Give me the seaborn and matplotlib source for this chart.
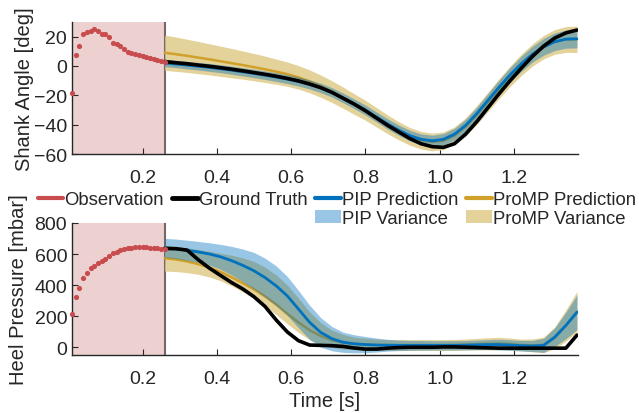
import numpy as np
import matplotlib
matplotlib.use("Agg")
import matplotlib.pyplot as plt
from matplotlib.lines import Line2D
from matplotlib.patches import Patch
import seaborn as sns

# observation phase (first part of the step)
obs_time = np.round(np.arange(0.01, 0.265, 0.01), 2)
obs_angle = [-18.5, 7.2, 13.8, 21.9, 23.0, 23.7, 24.9, 23.5, 21.9, 21.7, 19.7, 15.8, 14.7,
             13.6, 11.3, 9.5, 9.0, 8.4, 7.7, 7.0, 6.3, 5.4, 4.5, 4.1, 3.4, 2.9]
obs_pressure = [213, 324, 384, 445, 480, 510, 526, 543, 558, 571, 589, 604, 615,
                623, 632, 636, 641, 644, 647, 647, 644, 641, 638, 636, 633, 633]

# prediction phase
pred_time = np.round(np.arange(0.26, 1.371, 0.03), 2)

gt_angle = [3.0, 2.2, 1.5, 0.6, -0.2, -1.2, -2.2, -3.3, -4.5, -5.7, -7.0, -8.5, -10.2,
            -12.3, -14.8, -18.0, -22.0, -26.0, -30.5, -35.5, -40.5, -45.0, -49.5, -53.0,
            -55.0, -55.5, -53.0, -46.5, -38.0, -28.5, -19.0, -10.0, -1.5, 6.5, 13.5,
            19.0, 22.5, 24.5]
pip_angle = [2.0, 1.3, 0.6, -0.2, -1.0, -1.9, -2.9, -4.0, -5.1, -6.3, -7.6, -9.0, -10.6,
             -12.6, -15.0, -18.0, -21.8, -25.8, -30.0, -34.8, -39.5, -43.8, -47.5, -50.0,
             -51.0, -50.0, -46.5, -40.5, -32.5, -23.5, -14.5, -6.0, 1.5, 8.0, 13.0,
             16.5, 18.3, 18.5]
pip_angle_sd = [2.5, 2.5, 2.6, 2.6, 2.7, 2.7, 2.8, 2.8, 2.9, 2.9, 3.0, 3.0, 3.1,
                3.1, 3.2, 3.2, 3.3, 3.3, 3.4, 3.4, 3.5, 3.5, 3.6, 3.7,
                3.8, 3.9, 4.0, 4.2, 4.4, 4.6, 4.8, 5.0, 5.2, 5.4, 5.7,
                6.0, 6.2, 6.2]
promp_angle = [9.0, 8.0, 6.9, 5.7, 4.5, 3.2, 1.9, 0.6, -0.8, -2.3, -3.9, -5.6, -7.8,
               -10.5, -13.8, -17.5, -21.6, -26.0, -30.2, -35.0, -39.8, -44.2, -48.0, -50.6,
               -51.8, -51.0, -47.5, -41.5, -33.5, -24.5, -15.5, -7.0, 0.8, 7.5, 12.8,
               16.4, 18.0, 18.2]
promp_angle_sd = [12.0, 11.7, 11.3, 11.0, 10.6, 10.3, 10.0, 9.6, 9.3, 9.0, 8.6, 8.3, 8.0,
                  7.8, 7.6, 7.4, 7.2, 7.0, 6.8, 6.6, 6.4, 6.2, 6.0, 6.0,
                  6.0, 6.0, 6.0, 6.2, 6.4, 6.6, 6.8, 7.0, 7.3, 7.6, 8.0,
                  8.4, 8.8, 9.0]
promp_angle_lo = list(np.array(promp_angle) - np.array(promp_angle_sd))
promp_angle_hi = list(np.array(promp_angle) + np.array(promp_angle_sd))

gt_pressure = [636, 634, 625, 563, 509, 462, 416, 375, 325, 262, 175, 98, 42,
               14, 12, 10, 5, -5, -12, -12, -6, -2, 0, 0,
               0, 2, 2, 0, -2, -4, -6, -6, -6, -6, -6,
               -6, -6, 78]
pip_pressure = [640, 633, 624, 613, 600, 582, 557, 527, 492, 448, 395, 330, 245,
                160, 95, 55, 32, 22, 17, 14, 13, 12, 12, 12,
                12, 12, 12, 13, 15, 17, 17, 14, 10, 8, 12,
                65, 140, 225]
pip_pressure_sd = [61, 63, 65, 68, 72, 80, 92, 105, 118, 125, 128, 125, 120,
                   110, 95, 78, 65, 58, 52, 45, 38, 34, 32, 31,
                   30, 30, 30, 30, 31, 32, 34, 34, 34, 36, 45,
                   60, 85, 112]
promp_pressure = [573, 565, 552, 535, 512, 485, 450, 412, 372, 327, 275, 215, 160,
                  110, 72, 45, 30, 22, 18, 15, 14, 14, 14, 14,
                  14, 14, 15, 17, 20, 22, 24, 20, 14, 12, 15,
                  60, 140, 230]
promp_pressure_hi = [656, 650, 640, 630, 618, 605, 592, 575, 552, 515, 465, 400, 315,
                     228, 158, 110, 82, 65, 58, 52, 49, 49, 49, 49,
                     49, 49, 50, 53, 57, 61, 64, 59, 52, 53, 65,
                     130, 240, 360]
promp_pressure_lo = [490, 487, 480, 469, 452, 428, 395, 356, 315, 268, 210, 150, 95,
                     48, 17, -3, -12, -16, -18, -20, -21, -21, -21, -21,
                     -21, -21, -20, -19, -17, -17, -16, -19, -24, -29, -35,
                     -10, 40, 100]

RED = "#C84B4E"
BLUE = "#0072BD"
GOLD = "#D0A02A"
GOLD_BAND = "#E4D29B"
PINK = "#EDD1D1"
TXT = "#262626"

sns.set_style("ticks")
plt.rcParams["font.family"] = ["Liberation Sans", "DejaVu Sans"]
plt.rcParams["axes.edgecolor"] = TXT
plt.rcParams["xtick.color"] = TXT
plt.rcParams["ytick.color"] = TXT

fig = plt.figure(figsize=(6.39, 4.14), dpi=100)
ax1 = fig.add_axes([0.1127, 0.6256, 0.792, 0.319])
ax2 = fig.add_axes([0.1127, 0.1401, 0.792, 0.319])


def draw(ax, obs, gt, pip, pip_sd, promp, promp_lo, promp_hi):
    ax.axvspan(0.01, 0.261, color=PINK, lw=0, zorder=0)
    ax.axvline(0.261, color="#75686B", lw=1.5, zorder=1)
    pip = np.array(pip)
    ax.fill_between(pred_time, promp_lo, promp_hi, color=GOLD_BAND, lw=0, zorder=2)
    sns.lineplot(x=pred_time, y=promp, ax=ax, color=GOLD, lw=1.8, zorder=3, sort=False)
    ax.fill_between(pred_time, pip - np.array(pip_sd), pip + np.array(pip_sd),
                    color=BLUE, alpha=0.4, lw=0, zorder=4)
    sns.lineplot(x=pred_time, y=pip, ax=ax, color=BLUE, lw=2.0, zorder=5, sort=False)
    sns.lineplot(x=pred_time, y=gt, ax=ax, color="black", lw=2.6, zorder=6, sort=False)
    sns.scatterplot(x=obs_time, y=obs, ax=ax, color=RED, s=14, lw=0, zorder=7, clip_on=False)
    ax.set_xlim(0.01, 1.373)
    ax.set_xticks([0.2, 0.4, 0.6, 0.8, 1.0, 1.2])
    ax.set_xticklabels(["0.2", "0.4", "0.6", "0.8", "1.0", "1.2"])
    ax.tick_params(direction="in", length=4, width=0.8, labelsize=14, colors=TXT)
    ax.tick_params(axis="x", pad=11)
    sns.despine(ax=ax)
    for s in ["left", "bottom"]:
        ax.spines[s].set_linewidth(1.0)


draw(ax1, obs_angle, gt_angle, pip_angle, pip_angle_sd, promp_angle,
     promp_angle_lo, promp_angle_hi)
ax1.set_ylim(-60, 30)
ax1.set_yticks([-60, -40, -20, 0, 20])
ax1.set_ylabel("Shank Angle [deg]", fontsize=14.5, color=TXT)
ax1.yaxis.set_label_coords(-0.075, 0.5)

draw(ax2, obs_pressure, gt_pressure, pip_pressure, pip_pressure_sd,
     promp_pressure, promp_pressure_lo, promp_pressure_hi)
ax2.set_ylim(-50, 800)
ax2.set_yticks([0, 200, 400, 600, 800])
ax2.set_ylabel("Heel Pressure [mbar]", fontsize=14.5, color=TXT)
ax2.yaxis.set_label_coords(-0.087, 0.5)
ax2.set_xlabel("Time [s]", fontsize=14.5, color=TXT, labelpad=3)

blank = Line2D([], [], linestyle="none")
handles = [Line2D([], [], color=RED, lw=3), blank,
           Line2D([], [], color="black", lw=3.5), blank,
           Line2D([], [], color=BLUE, lw=3), Patch(color=BLUE, alpha=0.4, lw=0),
           Line2D([], [], color=GOLD, lw=3), Patch(color=GOLD_BAND, lw=0)]
labels = ["Observation", "", "Ground Truth", "", "PIP Prediction", "PIP Variance",
          "ProMP Prediction", "ProMP Variance"]
fig.legend(handles, labels, ncol=4, loc="center", bbox_to_anchor=(0.527, 0.492),
           frameon=False, fontsize=13.3, handlelength=1.4, handletextpad=0.05,
           columnspacing=0.43, labelspacing=0.1, borderpad=0, borderaxespad=0,
           labelcolor=TXT)

fig.savefig("out.png", dpi=100)
